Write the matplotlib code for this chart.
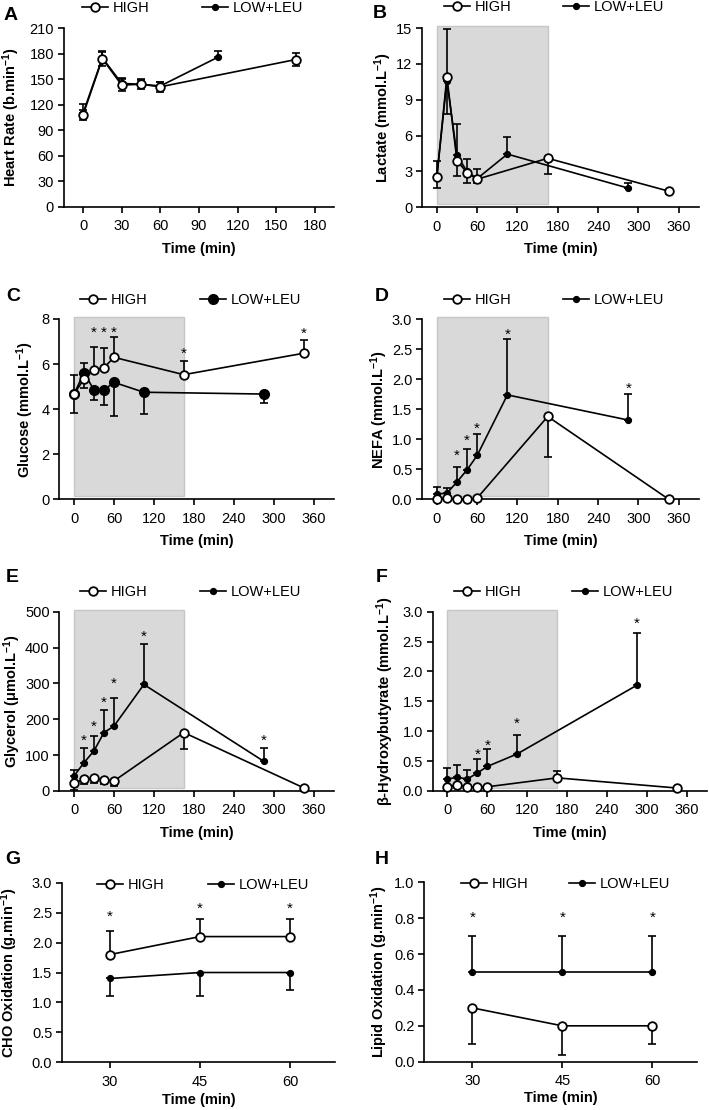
import matplotlib
matplotlib.use('Agg')
import matplotlib.pyplot as plt
from matplotlib.lines import Line2D
import numpy as np

plt.rcParams['font.family'] = ['Liberation Sans', 'DejaVu Sans']
plt.rcParams['mathtext.fontset'] = 'custom'
plt.rcParams['mathtext.rm'] = 'Liberation Sans'
plt.rcParams['mathtext.bf'] = 'Liberation Sans:bold'
plt.rcParams['mathtext.default'] = 'bf'

# ---------------- DATA ----------------
# Panel A: heart rate
hr_t_high = [0, 15, 30, 45, 60, 165]
hr_high = [108, 174, 143, 144, 141, 173]
hr_high_err = [6, 8, 7, 6, 6, 8]
hr_t_low = [0, 15, 30, 45, 60, 105]
hr_low = [110, 175, 145, 144, 142, 176]
hr_low_err = [11, 8, 6, 5, 5, 7]

# Panels B-F: shared time points
t_high = [0, 15, 30, 45, 60, 165, 345]
t_low = [0, 15, 30, 45, 60, 105, 285]

lac_high = [2.5, 10.9, 3.9, 2.9, 2.35, 4.1, 1.35]
lac_high_err = [0.87, 3.1, 1.3, 0.9, 0.35, 1.3, 0.2]
lac_low = [2.5, 10.6, 4.35, 3.0, 2.4, 4.45, 1.6]
lac_low_err = [1.4, 4.3, 2.6, 1.04, 0.82, 1.4, 0.4]

glu_high = [4.67, 5.34, 5.74, 5.84, 6.3, 5.53, 6.48]
glu_high_err = [0.86, 0.72, 1.03, 0.89, 0.92, 0.62, 0.59]
glu_low = [4.67, 5.62, 4.85, 4.85, 5.19, 4.75, 4.67]
glu_low_err = [0.86, 0.67, 0.45, 0.67, 1.49, 0.98, 0.41]

nefa_high = [0.01, 0.02, 0.0, 0.0, 0.02, 1.38, 0.0]
nefa_high_err = [0.0, 0.0, 0.0, 0.0, 0.0, 0.68, 0.0]
nefa_low = [0.09, 0.10, 0.29, 0.49, 0.73, 1.74, 1.32]
nefa_low_err = [0.11, 0.08, 0.24, 0.34, 0.36, 0.93, 0.44]

gly_high = [21, 33, 35, 31, 28, 163, 9]
gly_high_err = [17, 14, 14, 12, 14, 46, 3]
gly_low = [42, 79, 112, 163, 181, 297, 83]
gly_low_err = [17, 42, 42, 63, 77, 113, 38]

bhb_high = [0.07, 0.10, 0.07, 0.07, 0.07, 0.22, 0.05]
bhb_high_err = [0.02, 0.02, 0.02, 0.02, 0.02, 0.12, 0.02]
bhb_low = [0.20, 0.23, 0.20, 0.30, 0.41, 0.62, 1.77]
bhb_low_err = [0.19, 0.20, 0.15, 0.24, 0.29, 0.31, 0.88]

# Panels G-H: substrate oxidation
ox_t = [30, 45, 60]
cho_high = [1.8, 2.1, 2.1]
cho_high_err = [0.4, 0.3, 0.3]
cho_low = [1.4, 1.5, 1.5]
cho_low_err = [0.3, 0.4, 0.3]
lip_high = [0.3, 0.2, 0.2]
lip_high_err = [0.2, 0.16, 0.1]
lip_low = [0.5, 0.5, 0.5]
lip_low_err = [0.2, 0.2, 0.2]

# significance markers (time, y)
stars_C = [(30, 7.54), (45, 7.54), (60, 7.54), (165, 6.62), (345, 7.51)]
stars_D = [(30, 0.78), (45, 1.04), (60, 1.24), (105, 2.81), (285, 1.91)]
stars_E = [(15, 151), (30, 189), (45, 256), (60, 310), (105, 440), (285, 151)]
stars_F = [(45, 0.67), (60, 0.81), (105, 1.19), (285, 2.86)]
stars_G = [(30, 2.49), (45, 2.63), (60, 2.63)]
stars_H = [(30, 0.82), (45, 0.82), (60, 0.82)]

labels = ['HIGH', 'LOW+LEU']

# ---------------- FIGURE ----------------
W, H = 709, 1110
fig = plt.figure(figsize=(W / 100, H / 100), dpi=100)

LW = 1.2
SHADE = '#d9d9d9'
TICK_FS = 10.5


def make_ax(l, r, t, b):
    return fig.add_axes([l / W, 1 - b / H, (r - l) / W, (b - t) / H])


def style(ax, xlim, ylim, xticks, yticks, ylabel, ylab_x, yfmt=None):
    ax.set_xlim(*xlim)
    ax.set_ylim(*ylim)
    ax.set_xticks(xticks)
    ax.set_yticks(yticks)
    if yfmt:
        ax.set_yticklabels([yfmt.format(v) for v in yticks])
    for s in ['top', 'right']:
        ax.spines[s].set_visible(False)
    for s in ['left', 'bottom']:
        ax.spines[s].set_linewidth(LW)
    ax.tick_params(direction='out', length=4, width=LW, labelsize=TICK_FS)
    ax.tick_params(axis='x', pad=5)
    ax.tick_params(axis='y', pad=3)
    ax.set_xlabel('Time (min)', fontsize=10.5, fontweight='bold')
    ax.set_ylabel(ylabel, fontsize=10.5, fontweight='bold')
    pos = ax.get_position()
    axh_px = pos.height * H
    axw_px = pos.width * W
    ax.xaxis.set_label_coords(0.5, -42 / axh_px)
    ax.xaxis.label.set_va('center')
    ax.yaxis.set_label_coords((ylab_x - pos.x0 * W) / axw_px, 0.5)
    ax.yaxis.label.set_va('center')


def series(ax, t, y, err, direction, filled, big=False, z=3):
    if direction == 'up':
        yerr = [np.zeros(len(err)), err]
    elif direction == 'down':
        yerr = [err, np.zeros(len(err))]
    else:
        yerr = [err, err]
    ax.errorbar(t, y, yerr=yerr, fmt='none', ecolor='black', elinewidth=LW,
                capsize=3.2, capthick=LW, zorder=2, clip_on=False)
    if filled:
        ms = 7 if big else 4.2
        ax.plot(t, y, color='black', lw=LW, marker='o', ms=ms, mfc='black',
                mec='black', zorder=z, clip_on=False)
    else:
        ax.plot(t, y, color='black', lw=LW, marker='o', ms=6.2, mfc='white',
                mec='black', mew=1.3, zorder=z + 1, clip_on=False)


def legend(ax, x0, y0, gap_px, big=False):
    hh = Line2D([], [], color='black', lw=LW, marker='o', ms=6.2, mfc='white',
                mec='black', mew=1.3)
    hl = Line2D([], [], color='black', lw=LW, marker='o', ms=7 if big else 4.2,
                mfc='black', mec='black')
    fs = 10.5
    em = fs * 100 / 72
    ax.legend([hh, hl], labels, loc='center left',
              bbox_to_anchor=(x0 / W, 1 - y0 / H), bbox_transform=fig.transFigure,
              ncol=2, frameon=False, fontsize=fs, handlelength=1.75,
              handletextpad=0.35, columnspacing=gap_px / em, borderpad=0,
              borderaxespad=0)


def stars(ax, pts):
    for x, y in pts:
        ax.annotate('*', (x, y), xytext=(0, -5.5), textcoords='offset points',
                    ha='center', va='baseline', fontsize=11, annotation_clip=False)


def shade(ax):
    ax.axvspan(0, 165, ymin=0.018, ymax=1.01, facecolor=SHADE, edgecolor='#c6c6c6',
               lw=1.0, zorder=0, clip_on=False)


def letter(x, y, s):
    fig.text(x / W, 1 - y / H, s, fontsize=14, fontweight='bold', ha='left', va='center')


XL = (-22, 390)
XT = [0, 60, 120, 180, 240, 300, 360]
unit_mmol = 'mmol.L$^{-1}$'

# A
axA = make_ax(63.7, 334.4, 28, 207)
style(axA, (-15, 195), (0, 210), [0, 30, 60, 90, 120, 150, 180],
      list(range(0, 211, 30)), 'Heart Rate (b.min$^{-1}$)', 11)
series(axA, hr_t_low, hr_low, hr_low_err, 'up', True)
series(axA, hr_t_high, hr_high, hr_high_err, 'both', False)
legend(axA, 82, 8, 53)
letter(4, 15, 'A')

# B
axB = make_ax(422, 699, 28, 207.3)
style(axB, XL, (0, 15), XT, [0, 3, 6, 9, 12, 15], 'Lactate (' + unit_mmol + ')', 383)
shade(axB)
series(axB, t_low, lac_low, lac_low_err, 'up', True)
series(axB, t_high, lac_high, lac_high_err, 'down', False)
legend(axB, 444, 7, 52)
letter(373, 14, 'B')

# C
axC = make_ax(59.4, 333.5, 319, 499.3)
style(axC, XL, (0, 8), XT, [0, 2, 4, 6, 8], 'Glucose (' + unit_mmol + ')', 25)
shade(axC)
series(axC, t_low, glu_low, glu_low_err, 'down', True, big=True)
series(axC, t_high, glu_high, glu_high_err, 'up', False)
stars(axC, stars_C)
legend(axC, 80, 300, 53, big=True)
letter(6, 297, 'C')

# D
axD = make_ax(422, 699, 319.3, 499.3)
style(axD, XL, (0, 3), XT, [0, 0.5, 1.0, 1.5, 2.0, 2.5, 3.0], 'NEFA (' + unit_mmol + ')',
      379, yfmt='{:.1f}')
shade(axD)
series(axD, t_low, nefa_low, nefa_low_err, 'up', True)
series(axD, t_high, nefa_high, nefa_high_err, 'down', False)
stars(axD, stars_D)
legend(axD, 444, 300, 52)
letter(375, 297, 'D')

# E
axE = make_ax(59.4, 333.5, 611.7, 791)
style(axE, XL, (0, 500), XT, [0, 100, 200, 300, 400, 500],
      'Glycerol ($\\mathregular{\\mu}$mol.L$^{-1}$)', 12)
shade(axE)
series(axE, t_low, gly_low, gly_low_err, 'up', True)
series(axE, t_high, gly_high, gly_high_err, 'down', False)
stars(axE, stars_E)
legend(axE, 80, 592, 53)
letter(6, 578, 'E')

# F
axF = make_ax(432.7, 706.7, 611.7, 791)
style(axF, XL, (0, 3), XT, [0, 0.5, 1.0, 1.5, 2.0, 2.5, 3.0],
      '$\\mathregular{\\beta}$-Hydroxybutyrate (' + unit_mmol + ')', 385, yfmt='{:.1f}')
shade(axF)
series(axF, t_low, bhb_low, bhb_low_err, 'up', True)
series(axF, t_high, bhb_high, bhb_high_err, 'up', False)
stars(axF, stars_F)
legend(axF, 454, 592, 51)
letter(376, 578, 'F')

# G
axG = make_ax(62, 335, 882.7, 1062.3)
style(axG, (22, 67.5), (0, 3), ox_t, [0, 0.5, 1.0, 1.5, 2.0, 2.5, 3.0],
      'CHO Oxidation (g.min$^{-1}$)', 9, yfmt='{:.1f}')
axG.xaxis.set_label_coords(0.5, -38 / 179.6)
series(axG, ox_t, cho_low, cho_low_err, 'down', True)
series(axG, ox_t, cho_high, cho_high_err, 'up', False)
stars(axG, stars_G)
legend(axG, 97, 885, 44)
letter(5, 860, 'G')

# H
axH = make_ax(424.3, 697.3, 882.3, 1061.7)
style(axH, (22, 67.5), (0, 1), ox_t, [0, 0.2, 0.4, 0.6, 0.8, 1.0],
      'Lipid Oxidation (g.min$^{-1}$)', 379, yfmt='{:.1f}')
axH.xaxis.set_label_coords(0.5, -36 / 179.4)
series(axH, ox_t, lip_low, lip_low_err, 'up', True)
series(axH, ox_t, lip_high, lip_high_err, 'down', False)
stars(axH, stars_H)
legend(axH, 461, 884, 41)
letter(375, 860, 'H')

fig.savefig('out.png', dpi=100)
